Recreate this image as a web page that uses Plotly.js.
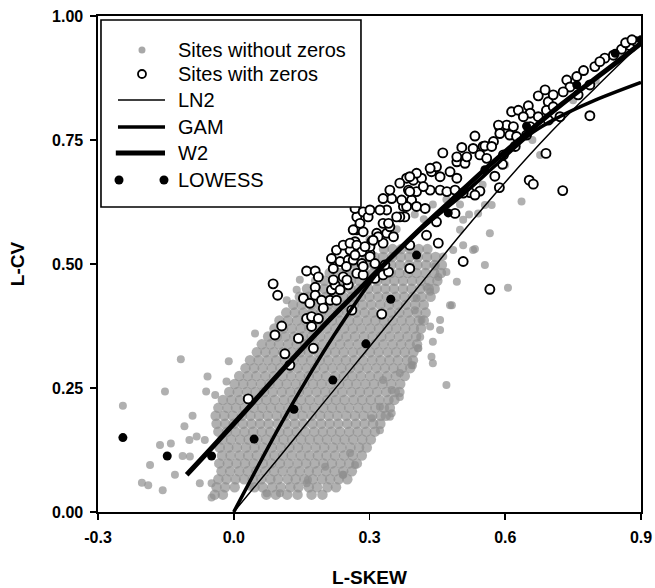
<!DOCTYPE html>
<html>
<head>
<meta charset="utf-8">
<script src="https://cdn.plot.ly/plotly-3.0.1.min.js"></script>
<style>html,body{margin:0;padding:0;background:#fff;}#chart{width:655px;height:588px;}</style>
</head>
<body>
<div id="chart"></div>
<script>
// ---- Data ----
// Dense part of "Sites without zeros": rows of [L-CV, [L-SKEW values]]
const grayDenseRows = [
  [0.035, [-0.042,-0.024,0.072,0.093,0.118,0.141,0.172,0.196]],
  [0.05,  [-0.038,-0.019,0.002,0.046,0.064,0.085,0.104,0.125,0.143,0.166,0.184,0.207,0.226]],
  [0.066, [-0.034,-0.016,0.004,0.023,0.042,0.061,0.081,0.098,0.119,0.137,0.156,0.175,0.195,0.213,0.232,0.251]],
  [0.082, [-0.027,-0.008,0.012,0.031,0.05,0.07,0.089,0.108,0.128,0.146,0.166,0.184,0.204,0.223,0.242,0.261]],
  [0.098, [-0.032,-0.013,0.006,0.025,0.044,0.064,0.083,0.102,0.121,0.141,0.16,0.179,0.198,0.217,0.236,0.255,0.272]],
  [0.114, [-0.026,-0.007,0.013,0.032,0.051,0.071,0.09,0.109,0.128,0.148,0.167,0.186,0.205,0.224,0.244,0.263,0.283]],
  [0.13,  [-0.031,-0.012,0.007,0.027,0.046,0.065,0.084,0.104,0.123,0.142,0.161,0.181,0.2,0.219,0.238,0.258,0.277,0.294]],
  [0.146, [-0.025,-0.006,0.014,0.033,0.052,0.072,0.091,0.11,0.129,0.149,0.168,0.187,0.206,0.226,0.245,0.264,0.284,0.303]],
  [0.162, [-0.034,-0.015,0.004,0.024,0.043,0.062,0.081,0.101,0.12,0.139,0.158,0.178,0.197,0.216,0.235,0.255,0.274,0.293,0.312]],
  [0.178, [-0.038,-0.019,0.0,0.02,0.039,0.058,0.077,0.097,0.116,0.135,0.154,0.174,0.193,0.212,0.231,0.251,0.27,0.289,0.308,0.324]],
  [0.194, [-0.04,-0.021,-0.002,0.018,0.037,0.056,0.075,0.095,0.114,0.133,0.152,0.172,0.191,0.21,0.229,0.249,0.268,0.287,0.306,0.325,0.336]],
  [0.21,  [-0.034,-0.014,0.005,0.024,0.044,0.063,0.082,0.101,0.121,0.14,0.159,0.178,0.198,0.217,0.236,0.255,0.275,0.294,0.313,0.332,0.345]],
  [0.226, [-0.024,-0.005,0.014,0.034,0.053,0.072,0.091,0.111,0.13,0.149,0.168,0.188,0.207,0.226,0.245,0.265,0.284,0.303,0.322,0.342,0.355]],
  [0.242, [-0.01,0.009,0.029,0.048,0.067,0.086,0.106,0.125,0.144,0.163,0.183,0.202,0.221,0.24,0.26,0.279,0.298,0.317,0.337,0.356,0.366]],
  [0.258, [0.002,0.021,0.04,0.06,0.079,0.098,0.117,0.137,0.156,0.175,0.194,0.214,0.233,0.252,0.271,0.291,0.31,0.329,0.348,0.368]],
  [0.274, [0.012,0.031,0.05,0.07,0.089,0.108,0.127,0.147,0.166,0.185,0.204,0.224,0.243,0.262,0.281,0.301,0.32,0.339,0.358,0.378]],
  [0.29,  [0.026,0.045,0.064,0.084,0.103,0.122,0.141,0.161,0.18,0.199,0.218,0.238,0.257,0.276,0.295,0.315,0.334,0.353,0.372,0.39]],
  [0.306, [0.036,0.055,0.075,0.094,0.113,0.132,0.152,0.171,0.19,0.209,0.229,0.248,0.267,0.286,0.306,0.325,0.344,0.363,0.383,0.396]],
  [0.322, [0.051,0.07,0.089,0.109,0.128,0.147,0.166,0.186,0.205,0.224,0.243,0.263,0.282,0.301,0.32,0.34,0.359,0.378,0.397]],
  [0.338, [0.062,0.081,0.1,0.12,0.139,0.158,0.177,0.197,0.216,0.235,0.254,0.274,0.293,0.312,0.331,0.351,0.37,0.389,0.405]],
  [0.354, [0.076,0.095,0.114,0.134,0.153,0.172,0.191,0.211,0.23,0.249,0.268,0.288,0.307,0.326,0.345,0.365,0.384,0.403]],
  [0.37,  [0.09,0.109,0.128,0.148,0.167,0.186,0.205,0.225,0.244,0.263,0.282,0.302,0.321,0.34,0.359,0.379,0.398,0.414]],
  [0.386, [0.101,0.12,0.14,0.159,0.178,0.197,0.217,0.236,0.255,0.274,0.294,0.313,0.332,0.351,0.371,0.39,0.409,0.42]],
  [0.402, [0.116,0.135,0.154,0.174,0.193,0.212,0.231,0.251,0.27,0.289,0.308,0.328,0.347,0.366,0.385,0.405,0.424]],
  [0.418, [0.131,0.15,0.17,0.189,0.208,0.227,0.247,0.266,0.285,0.304,0.324,0.343,0.362,0.381,0.401,0.42]],
  [0.434, [0.146,0.165,0.184,0.204,0.223,0.242,0.261,0.281,0.3,0.319,0.338,0.358,0.377,0.396,0.415,0.435]],
  [0.45,  [0.162,0.181,0.2,0.22,0.239,0.258,0.277,0.297,0.316,0.335,0.354,0.374,0.393,0.412,0.431,0.444]],
  [0.466, [0.182,0.201,0.22,0.24,0.259,0.278,0.297,0.317,0.336,0.355,0.374,0.394,0.413,0.432,0.45]],
  [0.482, [0.212,0.231,0.25,0.27,0.289,0.308,0.327,0.347,0.366,0.385,0.404,0.424,0.443,0.458]],
  [0.498, [0.252,0.271,0.29,0.31,0.329,0.348,0.367,0.387,0.406,0.425,0.444,0.46]],
  [0.514, [0.292,0.311,0.33,0.35,0.369,0.388,0.407,0.427,0.446]],
  [0.53,  [0.332,0.351,0.37,0.39,0.409,0.428]]
];
// Scattered "Sites without zeros" points [L-SKEW, L-CV]
const graySparse = [
  [-0.245,0.214],[-0.152,0.243],[-0.117,0.308],[-0.011,0.304],[-0.058,0.273],[-0.061,0.243],[-0.041,0.236],
  [-0.016,0.263],[-0.091,0.194],[-0.109,0.173],[-0.098,0.145],[-0.082,0.152],[-0.064,0.145],[-0.163,0.135],
  [-0.139,0.138],[-0.185,0.095],[-0.130,0.075],[-0.203,0.059],[-0.189,0.054],[-0.157,0.044],[-0.075,0.058],
  [-0.049,0.058],[-0.049,0.029],[-0.113,0.113],[-0.097,0.112],[0.047,0.36],[0.117,0.427],[0.146,0.468],
  [0.139,0.448],[0.036,0.051],[0.073,0.038],[0.102,0.038],[0.161,0.058],[0.257,0.119],[0.242,0.075],
  [0.241,0.075],[0.268,0.095],[0.202,0.091],[0.164,0.065],[0.323,0.165],[0.345,0.192],[0.367,0.232],
  [0.305,0.189],[0.349,0.199],[0.323,0.212],[0.349,0.246],[0.33,0.266],[0.367,0.28],[0.393,0.296],
  [0.396,0.296],[0.407,0.33],[0.408,0.33],[0.437,0.313],[0.44,0.343],[0.412,0.353],[0.434,0.374],
  [0.456,0.367],[0.456,0.387],[0.415,0.387],[0.4,0.407],[0.404,0.431],[0.426,0.454],[0.434,0.444],
  [0.478,0.417],[0.482,0.417],[0.493,0.464],[0.452,0.474],[0.47,0.484],[0.445,0.495],[0.485,0.528],
  [0.463,0.515],[0.5,0.569],[0.507,0.589],[0.507,0.538],[0.529,0.528],[0.533,0.53],[0.555,0.498],
  [0.566,0.562],[0.606,0.452],[0.57,0.619],[0.555,0.619],[0.54,0.602],[0.636,0.626],[0.677,0.72],
  [0.47,0.256],[0.44,0.3],[0.36,0.57],[0.4,0.6],[0.44,0.62],[0.42,0.59],[0.47,0.63],[0.5,0.62],
  [0.52,0.6],[0.55,0.66],[0.6,0.7],[0.62,0.74],[0.66,0.75],[0.7,0.79],[0.75,0.83],[0.8,0.87],
  [0.85,0.915],[0.88,0.935],[0.3,0.55],[0.33,0.56],[0.26,0.52]
];
// "Sites with zeros" points [L-SKEW, L-CV]
const zeroSites = [
  [0.032,0.228],[0.087,0.46],[0.097,0.437],[0.161,0.486],[0.18,0.486],[0.187,0.474],[0.18,0.453],[0.154,0.431],
  [0.168,0.421],[0.18,0.437],[0.194,0.427],[0.213,0.427],[0.227,0.427],[0.198,0.411],[0.216,0.448],[0.224,0.458],
  [0.242,0.474],[0.253,0.458],[0.216,0.511],[0.235,0.505],[0.253,0.508],[0.249,0.495],[0.257,0.528],[0.268,0.545],
  [0.272,0.569],[0.272,0.595],[0.268,0.612],[0.161,0.39],[0.172,0.394],[0.187,0.39],[0.172,0.374],[0.143,0.35],
  [0.106,0.375],[0.091,0.357],[0.113,0.319],[0.124,0.296],[0.176,0.33],[0.261,0.407],
  [0.227,0.528],[0.242,0.538],[0.22,0.491],[0.264,0.508],[0.25,0.468],[0.272,0.481],[0.283,0.501],[0.301,0.521],
  [0.305,0.545],[0.316,0.562],[0.338,0.562],[0.33,0.542],[0.378,0.595],[0.286,0.605],[0.297,0.595],[0.275,0.572],
  [0.257,0.542],[0.389,0.491],[0.264,0.569],[0.286,0.565],[0.272,0.538],[0.301,0.535],[0.283,0.525],[0.301,0.515],
  [0.286,0.478],[0.312,0.471],[0.33,0.478],[0.342,0.484],[0.327,0.399],[0.319,0.555],[0.338,0.609],[0.349,0.632],
  [0.375,0.616],[0.393,0.629],[0.404,0.646],[0.397,0.669],[0.415,0.673],[0.437,0.686],[0.448,0.696],[0.456,0.676],
  [0.478,0.686],[0.493,0.706],[0.493,0.673],[0.386,0.649],[0.367,0.595],[0.345,0.575],[0.33,0.582],[0.353,0.555],
  [0.426,0.558],[0.452,0.542],[0.389,0.538],[0.507,0.505],[0.448,0.585],[0.489,0.602],[0.334,0.498],
  [0.462,0.724],[0.504,0.735],[0.533,0.758],[0.529,0.733],[0.551,0.737],[0.493,0.716],[0.511,0.703],[0.434,0.693],
  [0.404,0.683],[0.382,0.673],[0.345,0.649],[0.323,0.609],[0.389,0.676],[0.574,0.747],[0.588,0.774],[0.603,0.78],
  [0.614,0.807],[0.434,0.649],[0.456,0.649],[0.471,0.646],[0.489,0.649],[0.522,0.644],[0.544,0.647],[0.507,0.643],
  [0.533,0.639],[0.382,0.616],[0.404,0.616],[0.423,0.612],[0.36,0.595],[0.342,0.582],[0.279,0.582],[0.301,0.609],
  [0.33,0.632],[0.367,0.663],[0.419,0.656],[0.389,0.646],[0.371,0.629],[0.268,0.518],[0.29,0.535],[0.308,0.548],
  [0.286,0.495],[0.312,0.501],[0.22,0.468],[0.235,0.448],
  [0.566,0.449],[0.787,0.799],[0.69,0.723],[0.727,0.648],[0.653,0.669],[0.662,0.661],[0.587,0.654],[0.577,0.677],
  [0.594,0.701],[0.555,0.738],[0.57,0.737],[0.515,0.716],[0.544,0.72],[0.559,0.713],[0.585,0.78],[0.618,0.777],
  [0.629,0.81],[0.651,0.819],[0.673,0.839],[0.688,0.851],[0.695,0.827],[0.706,0.841],[0.655,0.804],[0.64,0.797],
  [0.673,0.797],[0.691,0.81],[0.588,0.763],[0.61,0.76],[0.625,0.757],[0.655,0.777],[0.596,0.72],[0.622,0.737],
  [0.647,0.76],[0.695,0.79],[0.721,0.797],[0.736,0.871],[0.758,0.878],[0.773,0.89],[0.743,0.857],[0.761,0.841],
  [0.787,0.861],[0.798,0.898],[0.82,0.915],[0.839,0.921],[0.857,0.933],[0.876,0.94],[0.89,0.948],[0.809,0.908],
  [0.728,0.847],[0.706,0.817],[0.866,0.946],[0.88,0.952]
];
// Fitted curves
const ln2X = [0, 0.1, 0.2, 0.3, 0.4, 0.5, 0.6, 0.7, 0.8, 0.9];
const ln2Y = [0, 0.11, 0.222, 0.333, 0.445, 0.558, 0.665, 0.765, 0.856, 0.945];
const gamX = [0, 0.1035, 0.165, 0.235, 0.333, 0.42, 0.5, 0.58, 0.66, 0.72, 0.79, 0.9];
const gamY = [0, 0.176, 0.273, 0.375, 0.5, 0.575, 0.635, 0.7, 0.765, 0.797, 0.827, 0.866];
const w2X = [-0.104, -0.049, 0.028, 0.114, 0.193, 0.253, 0.333, 0.423, 0.481, 0.548, 0.63, 0.726, 0.837, 0.9];
const w2Y = [0.075, 0.129, 0.206, 0.293, 0.37, 0.426, 0.5, 0.58, 0.6285, 0.685, 0.75, 0.823, 0.9, 0.945];
const lowessX = [-0.245, -0.147, -0.049, 0.045, 0.133, 0.219, 0.292, 0.347, 0.404, 0.474, 0.555, 0.647, 0.758, 0.843, 0.9];
const lowessY = [0.15, 0.113, 0.113, 0.147, 0.207, 0.266, 0.339, 0.429, 0.518, 0.603, 0.69, 0.778, 0.861, 0.925, 0.952];
// Axis ticks
const xTickVals = [-0.3, 0.0, 0.3, 0.6, 0.9];
const xTickText = ['-0.3', '0.0', '0.3', '0.6', '0.9'];
const yTickVals = [0, 0.25, 0.5, 0.75, 1.0];
const yTickText = ['0.00', '0.25', '0.50', '0.75', '1.00'];
const legendLabels = ['Sites without zeros', 'Sites with zeros', 'LN2', 'GAM', 'W2', 'LOWESS'];

// ---- Build traces ----
const grayX = [], grayY = [], graySize = [];
grayDenseRows.forEach(r => r[1].forEach(x => { grayX.push(x); grayY.push(r[0]); graySize.push(10.5); }));
graySparse.forEach(p => { grayX.push(p[0]); grayY.push(p[1]); graySize.push(8); });

const FONT = 'Liberation Sans, Arial, Helvetica, sans-serif';
const GRAY = '#8e8e8e';

const traces = [
  {type:'scatter', mode:'markers', name:legendLabels[0], x:grayX, y:grayY,
   marker:{size:graySize, color:GRAY, line:{width:0}}, showlegend:false, hoverinfo:'skip'},
  {type:'scatter', mode:'markers', name:legendLabels[1], x:zeroSites.map(p=>p[0]), y:zeroSites.map(p=>p[1]),
   marker:{size:9, color:'#ffffff', line:{width:1.9, color:'#000'}}, showlegend:false},
  {type:'scatter', mode:'lines', name:legendLabels[2], x:ln2X, y:ln2Y,
   line:{color:'#000', width:1.5, shape:'spline'}, showlegend:false},
  {type:'scatter', mode:'lines', name:legendLabels[3], x:gamX, y:gamY,
   line:{color:'#000', width:3.5, shape:'spline'}, showlegend:false},
  {type:'scatter', mode:'lines', name:legendLabels[4], x:w2X, y:w2Y,
   line:{color:'#000', width:5, shape:'spline'}, showlegend:false},
  {type:'scatter', mode:'markers', name:legendLabels[5], x:lowessX, y:lowessY,
   marker:{size:9, color:'#000'}, showlegend:false}
];

// ---- Manual legend (paper coordinates) ----
const rowY = [0.9315, 0.8831, 0.8306, 0.7762, 0.7238, 0.6694];
const symX = 0.0810, lineX0 = 0.0368, lineX1 = 0.1234, textX = 0.1436;
const shapes = [
  {type:'rect', xref:'paper', yref:'paper', x0:0.0055, x1:0.4843, y0:0.6149, y1:0.9919,
   line:{color:'#000', width:1.6}, fillcolor:'#fff', layer:'above'},
  {type:'circle', xref:'paper', yref:'paper', xsizemode:'pixel', ysizemode:'pixel', xanchor:symX, yanchor:rowY[0],
   x0:-3.5, x1:3.5, y0:-3.5, y1:3.5, fillcolor:'#a8a8a8', line:{width:0}, layer:'above'},
  {type:'circle', xref:'paper', yref:'paper', xsizemode:'pixel', ysizemode:'pixel', xanchor:symX, yanchor:rowY[1],
   x0:-4, x1:4, y0:-4, y1:4, fillcolor:'#fff', line:{width:1.8, color:'#000'}, layer:'above'},
  {type:'line', xref:'paper', yref:'paper', x0:lineX0, x1:lineX1, y0:rowY[2], y1:rowY[2], line:{color:'#000', width:1.5}, layer:'above'},
  {type:'line', xref:'paper', yref:'paper', x0:lineX0, x1:lineX1, y0:rowY[3], y1:rowY[3], line:{color:'#000', width:3.5}, layer:'above'},
  {type:'line', xref:'paper', yref:'paper', x0:lineX0-0.004, x1:lineX1, y0:rowY[4], y1:rowY[4], line:{color:'#000', width:5}, layer:'above'},
  {type:'circle', xref:'paper', yref:'paper', xsizemode:'pixel', ysizemode:'pixel', xanchor:0.0387, yanchor:rowY[5],
   x0:-4.5, x1:4.5, y0:-4.5, y1:4.5, fillcolor:'#000', line:{width:0}, layer:'above'},
  {type:'circle', xref:'paper', yref:'paper', xsizemode:'pixel', ysizemode:'pixel', xanchor:0.1215, yanchor:rowY[5],
   x0:-4.5, x1:4.5, y0:-4.5, y1:4.5, fillcolor:'#000', line:{width:0}, layer:'above'}
];
const annotations = legendLabels.map((t, i) => ({
  text:t, xref:'paper', yref:'paper', x:textX, y:rowY[i], xanchor:'left', yanchor:'middle',
  showarrow:false, font:{family:FONT, size:20, color:'#000'}
}));

const layout = {
  width:655, height:588,
  margin:{l:98, r:14, t:16, b:76},
  paper_bgcolor:'#fff', plot_bgcolor:'#fff',
  showlegend:false,
  font:{family:FONT, color:'#000'},
  xaxis:{range:[-0.3, 0.9], tickvals:xTickVals, ticktext:xTickText,
    showline:true, linecolor:'#000', linewidth:1.6, mirror:true,
    ticks:'outside', ticklen:6, tickwidth:1.6, tickcolor:'#000',
    showgrid:false, zeroline:false, ticklabelstandoff:4,
    tickfont:{family:FONT, size:16, color:'#000', weight:'bold'},
    title:{text:'L-SKEW', font:{family:FONT, size:19, color:'#000', weight:'bold'}, standoff:26}},
  yaxis:{range:[0, 1], tickvals:yTickVals, ticktext:yTickText,
    showline:true, linecolor:'#000', linewidth:1.6, mirror:true,
    ticks:'outside', ticklen:6, tickwidth:1.6, tickcolor:'#000',
    showgrid:false, zeroline:false, ticklabelstandoff:4,
    tickfont:{family:FONT, size:16, color:'#000', weight:'bold'},
    title:{text:'L-CV', font:{family:FONT, size:19, color:'#000', weight:'bold'}, standoff:22}},
  shapes:shapes,
  annotations:annotations
};

Plotly.newPlot('chart', traces, layout, {displayModeBar:false, staticPlot:true});
</script>
</body>
</html>
